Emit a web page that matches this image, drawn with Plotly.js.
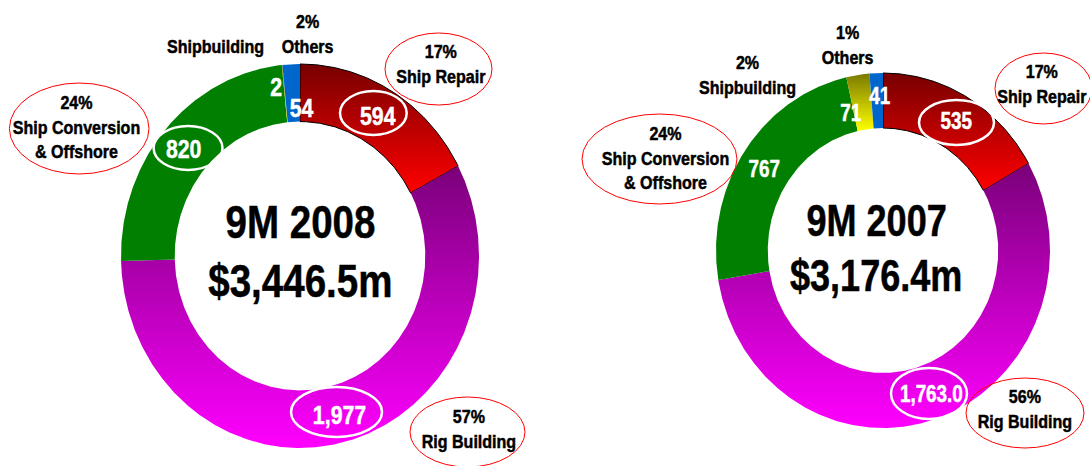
<!DOCTYPE html>
<html><head><meta charset="utf-8">
<script src="https://cdn.plot.ly/plotly-3.0.1.min.js"></script>
<style>html,body{margin:0;padding:0;background:#fff}#chart{width:1090px;height:466px}</style>
</head><body><div id="chart"></div>
<script>
// ---- data ----
const categories = ['Ship Repair', 'Rig Building', 'Ship Conversion & Offshore', 'Shipbuilding', 'Others'];
const values2008 = [594, 1977, 820, 2, 54];
const values2007 = [535, 1763, 767, 71, 41];
const valueLabels2008 = ['594', '1,977', '820', '2', '54'];
const valueLabels2007 = ['535', '1,763.0', '767', '71', '41'];
const pctLabels2008 = ['17%', '57%', '24%', '', '2%'];
const pctLabels2007 = ['17%', '56%', '24%', '2%', '1%'];
const periods = ['9M 2008', '9M 2007'];
const totals = ['$3,446.5m', '$3,176.4m'];

// ---- styles ----
const FONT = '"Liberation Sans Narrow", "Liberation Sans", Arial, sans-serif';
const sliceStyle = [
  {grad: [[0, '#ff0000'], [1, '#780000']], line: {color: '#000', width: 1}},
  {grad: [[0, '#ff00ff'], [1, '#7a007a']], line: {width: 0}},
  {color: '#007f00', line: {width: 0}},
  {grad: [[0, '#ffff00'], [1, '#7a7a00']], line: {width: 0}},
  {color: '#0066cc', line: {width: 0}}
];

const charts = [
  {values: values2008, valueLabels: valueLabels2008, pct: pctLabels2008, period: periods[0], total: totals[0],
   cx: 300, cy: 256, rx: 179, ry: 192, hole: 0.70, big: 47, valSize: 26,
   valPos: [[378, 116], [339, 415], [183, 149], [276, 87], [301, 108]],
   valRing: [[340, 91, 406.7, 135], [291, 387, 382, 437], [153.6, 126, 222.5, 170], null, null],
   catPos: [[441, 64], [468.5, 428.5], [76, 126.5], [215.5, 46], [307.5, 34]],
   catRing: [[385, 33, 492, 105], [410, 397, 525, 467], [9.4, 83, 149, 174], null, null],
   centerPos: [[300, 221], [300, 280]]},
  {values: values2007, valueLabels: valueLabels2007, pct: pctLabels2007, period: periods[1], total: totals[1],
   cx: 883, cy: 250.5, rx: 167, ry: 177.5, hole: 0.69, big: 44, valSize: 23,
   valPos: [[956, 121], [931, 394], [764, 169], [851, 113], [880, 96]],
   valRing: [[919, 100, 994, 145], [891, 368, 967, 419], null, null, null],
   catPos: [[1042, 83.5], [1025, 409], [665, 157.5], [747.6, 74.5], [847, 44.5]],
   catRing: [[995, 53, 1092, 124], [966, 378, 1084, 448], [582, 114, 737, 204], null, null],
   centerPos: [[876, 220], [876, 275]]}
];

const traces = [];
const annotations = [];
const narrow = [];   // horizontal condensing per annotation (Arial Narrow look)
const shapes = [];

function addText(x, y, text, size, color, squeeze) {
  annotations.push({x: x, y: y, xref: 'x', yref: 'y', showarrow: false,
    text: text.split('<br>').map(s => '<b>' + s + '</b>').join('<br>'),
    font: {family: FONT, size: size, color: color}, xanchor: 'center', yanchor: 'middle', align: 'center'});
  narrow.push(squeeze);
}

charts.forEach(ch => {
  const sum = ch.values.reduce((a, b) => a + b, 0);
  let acc = 0;
  ch.values.forEach((v, i) => {
    const a0 = acc / sum * 2 * Math.PI;
    acc += v;
    const a1 = acc / sum * 2 * Math.PI;
    const n = Math.max(2, Math.ceil((a1 - a0) / (Math.PI / 360)));
    const xs = [], ys = [];
    for (let k = 0; k <= n; k++) {
      const a = a0 + (a1 - a0) * k / n;
      xs.push(ch.cx + ch.rx * Math.sin(a));
      ys.push(ch.cy - ch.ry * Math.cos(a));
    }
    for (let k = n; k >= 0; k--) {
      const a = a0 + (a1 - a0) * k / n;
      xs.push(ch.cx + ch.rx * ch.hole * Math.sin(a));
      ys.push(ch.cy - ch.ry * ch.hole * Math.cos(a));
    }
    xs.push(xs[0]); ys.push(ys[0]);
    const st = sliceStyle[i];
    const tr = {type: 'scatter', mode: 'lines', x: xs, y: ys, fill: 'toself',
      line: st.line.width ? st.line : {width: 0, color: st.color || 'rgba(0,0,0,0)'},
      hoverinfo: 'skip', name: categories[i]};
    if (st.grad) tr.fillgradient = {type: 'vertical', colorscale: st.grad};
    else tr.fillcolor = st.color;
    traces.push(tr);

    // value label
    addText(ch.valPos[i][0], ch.valPos[i][1], ch.valueLabels[i], ch.valSize, '#fff', 0.82);
    if (ch.valRing[i]) {
      const r = ch.valRing[i];
      shapes.push({type: 'circle', xref: 'x', yref: 'y', x0: r[0], y0: r[1], x1: r[2], y1: r[3],
        line: {color: '#fff', width: 2.5}, fillcolor: 'rgba(0,0,0,0)'});
    }
    // category label
    const name = categories[i].replace(' & ', '<br>& ');
    const txt = ch.pct[i] ? ch.pct[i] + '<br>' + name : name;
    addText(ch.catPos[i][0], ch.catPos[i][1], txt, 19, '#000', 0.845);
    if (ch.catRing[i]) {
      const r = ch.catRing[i];
      shapes.push({type: 'circle', xref: 'x', yref: 'y', x0: r[0], y0: r[1], x1: r[2], y1: r[3],
        line: {color: '#ff0000', width: 1}, fillcolor: 'rgba(0,0,0,0)'});
    }
  });
  addText(ch.centerPos[0][0], ch.centerPos[0][1], ch.period, ch.big, '#000', 0.82);
  addText(ch.centerPos[1][0], ch.centerPos[1][1], ch.total, ch.big, '#000', 0.82);
});

const layout = {
  width: 1090, height: 466,
  margin: {l: 0, r: 0, t: 0, b: 0},
  paper_bgcolor: '#fff', plot_bgcolor: '#fff',
  showlegend: false, hovermode: false,
  xaxis: {range: [0, 1090], visible: false, fixedrange: true},
  yaxis: {range: [466, 0], visible: false, fixedrange: true},
  annotations: annotations,
  shapes: shapes
};
Plotly.newPlot('chart', traces, layout, {displayModeBar: false, staticPlot: true}).then(gd => {
  // condense annotation text horizontally around its own centre, slightly heavier strokes
  gd.querySelectorAll('g.annotation').forEach(g => {
    const idx = +g.getAttribute('data-index');
    const t = g.querySelector('text.annotation-text');
    if (!t) return;
    const s = narrow[idx] || 0.82;
    const bb = t.getBBox();
    const cx = bb.x + bb.width / 2;
    t.setAttribute('transform', 'translate(' + cx + ',0) scale(' + s + ',1) translate(' + (-cx) + ',0)');
    t.style.stroke = annotations[idx].font.color;
    t.style.strokeWidth = '0.5px';
  });
});
</script>
</body></html>
